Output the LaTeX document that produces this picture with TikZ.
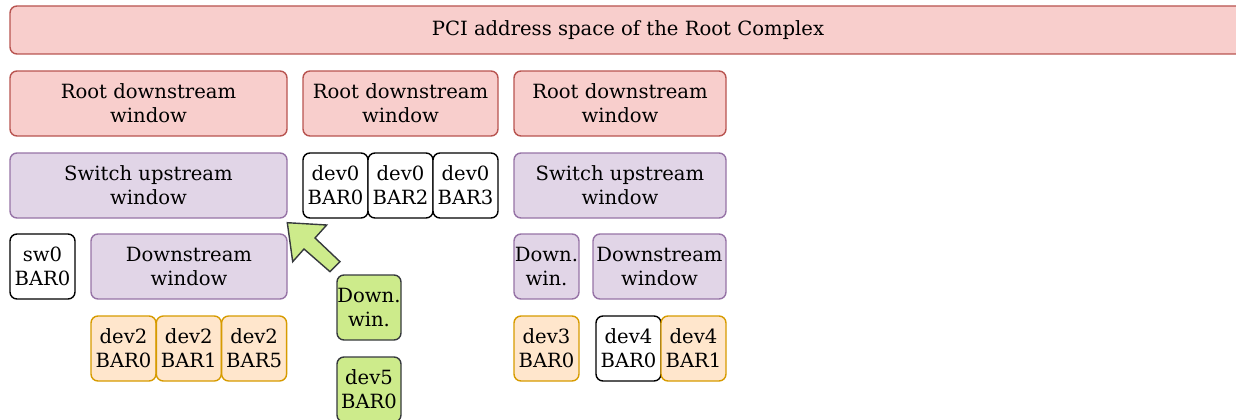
\documentclass[tikz,border=0pt]{standalone}
\usepackage{fontspec}
\setmainfont{DejaVu Serif}
\definecolor{pinkfill}{HTML}{F8CECC}\definecolor{pinkline}{HTML}{B85450}
\definecolor{lilafill}{HTML}{E1D5E7}\definecolor{lilaline}{HTML}{9673A6}
\definecolor{orangefill}{HTML}{FFE6CC}\definecolor{orangeline}{HTML}{D79B00}
\definecolor{greenfill}{HTML}{CDEB8B}\definecolor{greenline}{HTML}{36393D}
\tikzset{
  win/.style={draw, rounded corners=7pt, line width=1.4pt, align=center, inner sep=0pt,
    minimum height=65pt, font=\fontsize{19.6}{24}\selectfont},
  rootwin/.style={win, draw=pinkline, fill=pinkfill},
  swwin/.style={win, draw=lilaline, fill=lilafill},
  bar/.style={win, draw=black, fill=white, minimum width=65pt},
  devbar/.style={win, draw=orangeline, fill=orangefill, minimum width=65pt},
  newdev/.style={win, draw=greenline, fill=greenfill, minimum width=64pt}
}
\begin{document}
\begin{tikzpicture}[x=1pt,y=-1pt]
\useasboundingbox (0,0) rectangle (1236,420);
%
\node[rootwin, minimum width=1236pt, minimum height=48pt] (pci) at (628,30) {PCI address space of the Root Complex};

% root windows
\node[rootwin, minimum width=277pt] (rdw1) at (148.5,103.5) {Root downstream\\window};
\node[rootwin, minimum width=195pt] (rdw2) at (400.5,103.5) {Root downstream\\window};
\node[rootwin, minimum width=212pt] (rdw3) at (620,103.5) {Root downstream\\window};

% switch up
\node[swwin, minimum width=277pt] (suw1) at (148.5,185.5) {Switch upstream\\window};
\node[swwin, minimum width=212pt] (suw3) at (620,185.5) {Switch upstream\\window};
\foreach \b [count=\i from 0] in {0,2,3} {
\node[bar] (dev0bar\b) at (335.5+65*\i,185.5) {dev0\\BAR\b};
}

% switch down
\node[bar] (sw0bar0) at (42.5,266.5) {sw0\\BAR0};
\node[swwin, minimum width=196pt] (dsw1) at (189,266.5) {Downstream\\window};
\node[swwin, minimum width=65pt] (dsw3a) at (546.5,266.5) {Down.\\win.};
\node[swwin, minimum width=133pt] (dsw3b) at (659.5,266.5) {Downstream\\window};

% endpoints
\foreach \b [count=\i from 0] in {0,1,5} {
\node[devbar] (dev2bar\b) at (123.5+65.3*\i,348.5) {dev2\\BAR\b};
}
\node[devbar] (dev3bar0) at (546.5,348.5) {dev3\\BAR0};
\node[bar] (dev4bar0) at (628.5,348.5) {dev4\\BAR0};
\node[devbar] (dev4bar1) at (693.5,348.5) {dev4\\BAR1};

% hot plugged
\node[newdev] (dsw5) at (369,307.5) {Down.\\win.};
\node[newdev] (dev5bar0) at (369,389.5) {dev5\\BAR0};
\draw[greenline, fill=greenfill, line width=1.4pt, line join=miter]
  (287.3,222.7) -- (326.7,225) -- (315,238) -- (340,261.7) -- (330,271.7)
  -- (304,249) -- (292.7,261.7) -- cycle;
\end{tikzpicture}
\end{document}
